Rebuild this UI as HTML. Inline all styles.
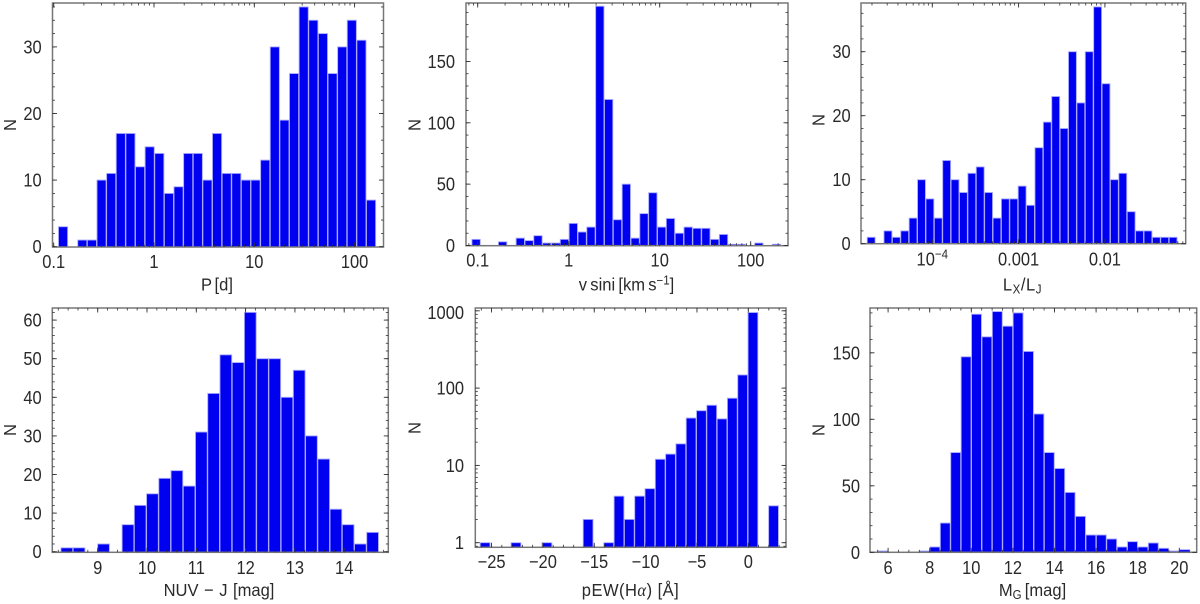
<!DOCTYPE html>
<html lang="en">
<head>
<meta charset="utf-8">
<title>Histograms of stellar parameters</title>
<style>
html,body{margin:0;padding:0;background:#fff;width:1200px;height:604px;overflow:hidden}
svg{display:block}
text{font-family:"Liberation Sans",sans-serif;fill:#2a2a2a}
.tick-label{font-size:18.5px}
.axis-title{font-size:18px;text-anchor:middle}
</style>
</head>
<body>
<svg id="figure" xmlns="http://www.w3.org/2000/svg" width="1200" height="604" viewBox="0 0 1200 604">
  <rect width="1200" height="604" fill="#fff"/>
  <g id="p0"></g>
  <g id="p1"></g>
  <g id="p2"></g>
  <g id="p3"></g>
  <g id="p4"></g>
  <g id="p5"></g>

  <text class="axis-title" transform="translate(217,290.5) scale(.92,1)" word-spacing="-2">P [d]</text>
  <text class="axis-title" transform="translate(16,125) rotate(-90) scale(.92,1)">N</text>

  <text class="axis-title" transform="translate(626.5,290.5) scale(.92,1)" word-spacing="-1.5">v sini [km s<tspan dy="-6" font-size="12.5">−1</tspan><tspan dy="6">]</tspan></text>
  <text class="axis-title" transform="translate(420.5,125) rotate(-90) scale(.92,1)">N</text>

  <text class="axis-title" transform="translate(1022.5,290.5) scale(.92,1)" letter-spacing=".6">L<tspan dy="3" font-size="12.5">X</tspan><tspan dy="-3">/L</tspan><tspan dy="3" font-size="12.5">J</tspan></text>
  <text class="axis-title" transform="translate(824.5,120) rotate(-90) scale(.92,1)">N</text>

  <text class="axis-title" transform="translate(219,596) scale(.92,1)" word-spacing="1">NUV − J [mag]</text>
  <text class="axis-title" transform="translate(16,430) rotate(-90) scale(.92,1)">N</text>

  <text class="axis-title" transform="translate(630.5,596) scale(.92,1)" letter-spacing=".5">pEW(H<tspan font-style="italic" font-family="Liberation Serif">α</tspan>) [Å]</text>
  <text class="axis-title" transform="translate(420.5,428) rotate(-90) scale(.92,1)">N</text>

  <text class="axis-title" transform="translate(1032.5,596) scale(.92,1)" word-spacing="-1.5">M<tspan dy="3" font-size="12.5">G</tspan><tspan dy="-3"> [mag]</tspan></text>
  <text class="axis-title" transform="translate(824.5,430) rotate(-90) scale(.92,1)">N</text>
</svg>

<script>
// ---- data: bin ranges (in data units) ----
const periodBinRange = [0.111, 163];
const vsiniBinRange = [0.0859, 215];
const lxljBinRange = [0.0000175, 0.069];
const nuvBinRange = [8.25, 14.7];
const pewBinRange = [-26.13, 2.96];
const mgBinRange = [5.5, 20.5];

// ---- data: histogram counts ----
const periodCounts = [3,0,1,1,10,11,17,17,12,15,14,8,9,14,14,10,17,11,11,10,10,13,30,19,26,36,34,32,26,30,34,31,7];
const vsiniCounts = [5,0,0,3,0,6,4,8,2,2,5,18,11,15,195,119,21,50,6,26,43,15,22,10,15,14,14,5,9,1,1,0,2,0,1];
const lxljCounts = [1,0,2,1,2,4,10,7,4,13,10,8,11,12,8,4,7,7,9,6,15,19,23,18,30,22,30,37,25,10,11,5,2,2,1,1,1];
const nuvCounts = [1,1,0,2,0,7,12,15,19,21,17,31,41,51,49,62,50,50,40,47,30,24,11,7,2,5];
const pewCounts = [1,0,0,1,0,0,1,0,0,0,2,0,1,4,2,4,5,12,14,19,41,51,60,40,74,148,950,0,3];
const mgCounts = [1,0,0,0,1,4,22,75,147,179,162,181,170,180,151,104,75,63,45,27,13,13,10,4,8,4,7,3,1,2];

// ---- tick values and labels ----
const periodXTicks = [0.1,1,10,100];
const periodXLabels = ["0.1","1","10","100"];
const periodYTicks = [0,10,20,30];
const periodYLabels = ["0","10","20","30"];
const vsiniXTicks = [0.1,1,10,100];
const vsiniXLabels = ["0.1","1","10","100"];
const vsiniYTicks = [0,50,100,150];
const vsiniYLabels = ["0","50","100","150"];
const lxljXTicks = [0.0001,0.001,0.01];
const lxljXLabels = ["10^−4","0.001","0.01"];
const lxljYTicks = [0,10,20,30];
const lxljYLabels = ["0","10","20","30"];
const nuvXTicks = [9,10,11,12,13,14];
const nuvXLabels = ["9","10","11","12","13","14"];
const nuvYTicks = [0,10,20,30,40,50,60];
const nuvYLabels = ["0","10","20","30","40","50","60"];
const pewXTicks = [-25,-20,-15,-10,-5,0];
const pewXLabels = ["−25","−20","−15","−10","−5","0"];
const pewYTicks = [1,10,100,1000];
const pewYLabels = ["1","10","100","1000"];
const mgXTicks = [6,8,10,12,14,16,18,20];
const mgXLabels = ["6","8","10","12","14","16","18","20"];
const mgYTicks = [0,50,100,150];
const mgYLabels = ["0","50","100","150"];

// ---- layout ----
const panels = [
 {id:"p0",name:"period",frame:[52.5,383.5,3,247],counts:periodCounts,bins:periodBinRange,
  x:{log:true,ref:0.1,px:53.7,k:100.3},y:{log:false,ref:0,px:246.7,k:-6.66},
  xt:periodXTicks,xl:periodXLabels,yt:periodYTicks,yl:periodYLabels,xMinor:0,yMinor:2,xBase:268,yRight:41.7},
 {id:"p1",name:"vsini",frame:[466,788,3,245.7],counts:vsiniCounts,bins:vsiniBinRange,
  x:{log:true,ref:0.1,px:477.7,k:91},y:{log:false,ref:0,px:245.5,k:-1.227},
  xt:vsiniXTicks,xl:vsiniXLabels,yt:vsiniYTicks,yl:vsiniYLabels,xMinor:0,yMinor:10,xBase:266.7,yRight:455},
 {id:"p2",name:"lx-lj",frame:[861,1185.7,3,243.7],counts:lxljCounts,bins:lxljBinRange,
  x:{log:true,ref:0.0001,px:932.3,k:86.3},y:{log:false,ref:0,px:243.7,k:-6.4},
  xt:lxljXTicks,xl:lxljXLabels,yt:lxljYTicks,yl:lxljYLabels,xMinor:0,yMinor:2,xBase:265.7,yRight:850.7},
 {id:"p3",name:"nuv-j",frame:[52.3,388.3,308,552.3],counts:nuvCounts,bins:nuvBinRange,
  x:{log:false,ref:9,px:97.7,k:49.3},y:{log:false,ref:0,px:551.7,k:-3.86},
  xt:nuvXTicks,xl:nuvXLabels,yt:nuvYTicks,yl:nuvYLabels,xMinor:0.2,yMinor:2,xBase:574,yRight:41.7},
 {id:"p4",name:"pew-halpha",frame:[475.3,786,308,547.3],counts:pewCounts,bins:pewBinRange,
  x:{log:false,ref:0,px:748.3,k:10.27},y:{log:true,ref:1,px:542.7,k:-77.3},
  xt:pewXTicks,xl:pewXLabels,yt:pewYTicks,yl:pewYLabels,xMinor:1,yMinor:0,xBase:568,yRight:464},
 {id:"p5",name:"mg",frame:[870,1196.7,308,552.3],counts:mgCounts,bins:mgBinRange,
  x:{log:false,ref:10,px:971.3,k:20.8},y:{log:false,ref:0,px:552.3,k:-1.33},
  xt:mgXTicks,xl:mgXLabels,yt:mgYTicks,yl:mgYLabels,xMinor:0.5,yMinor:10,xBase:574,yRight:860}
];

const NS = "http://www.w3.org/2000/svg";
function add(parent, tag, attrs) {
  const el = document.createElementNS(NS, tag);
  for (const key in attrs) el.setAttribute(key, attrs[key]);
  parent.appendChild(el);
  return el;
}
function makeScale(s) {
  return s.log
    ? v => s.px + (Math.log10(v) - Math.log10(s.ref)) * s.k
    : v => s.px + (v - s.ref) * s.k;
}
function invert(s, p) {
  const t = (p - s.px) / s.k;
  return s.log ? t + Math.log10(s.ref) : t + s.ref;
}
function minorValues(s, step, a, b) {
  const lo = Math.min(invert(s, a), invert(s, b));
  const hi = Math.max(invert(s, a), invert(s, b));
  const out = [];
  if (s.log) {
    for (let d = Math.floor(lo); d <= Math.ceil(hi); d++) {
      for (let m = 1; m < 10; m++) {
        const t = d + Math.log10(m);
        if (t > lo && t < hi) out.push(Math.pow(10, t));
      }
    }
  } else {
    for (let v = Math.ceil(lo / step) * step; v < hi; v += step) out.push(v);
  }
  return out;
}
function writeLabel(el, label) {
  const parts = label.split("^");
  el.textContent = parts[0];
  if (parts[1]) {
    const sup = add(el, "tspan", {dy: -7, "font-size": 13});
    sup.textContent = parts[1];
    
    
  }
}

panels.forEach(p => {
  const g = document.getElementById(p.id);
  const [L, R, T, B] = p.frame;
  const X = makeScale(p.x);
  const Y = makeScale(p.y);
  const n = p.counts.length;

  // bars
  const edge = i => {
    const [a, b] = p.bins;
    return p.x.log
      ? Math.pow(10, Math.log10(a) + (Math.log10(b) - Math.log10(a)) * i / n)
      : a + (b - a) * i / n;
  };
  p.counts.forEach((c, i) => {
    if (c <= 0) return;
    const x0 = X(edge(i));
    const x1 = X(edge(i + 1));
    const top = Y(c);
    const bar = add(g, "rect", {
      x: x0 + 0.25, y: top, width: Math.max(x1 - x0 - 0.5, 0.5), height: Math.max(B - top, 0),
      fill: "#0000f0", stroke: "#a9a9ff", "stroke-width": 0.9
    });
    
    
  });

  // frame
  const frame = add(g, "rect", {x: L, y: T, width: R - L, height: B - T, fill: "none", stroke: "#777", "stroke-width": 1.5});
  
  

  // minor ticks
  minorValues(p.x, p.xMinor, L, R).forEach(v => {
    const px = X(v);
    [[B, B - 2.5], [T, T + 2.5]].forEach(([a, b]) => {
      const tick = add(g, "line", {x1: px, x2: px, y1: a, y2: b, stroke: "#333", "stroke-width": 0.8});
      
      
    });
  });
  minorValues(p.y, p.yMinor, B, T).forEach(v => {
    const py = Y(v);
    [[L, L + 2.5], [R, R - 2.5]].forEach(([a, b]) => {
      const tick = add(g, "line", {x1: a, x2: b, y1: py, y2: py, stroke: "#333", "stroke-width": 0.8});
      
      
    });
  });

  // major ticks and labels
  p.xt.forEach((v, i) => {
    const px = X(v);
    [[B, B - 4.5], [T, T + 4.5]].forEach(([a, b]) => {
      const tick = add(g, "line", {x1: px, x2: px, y1: a, y2: b, stroke: "#333", "stroke-width": 0.9});
      
      
    });
    const label = add(g, "text", {class: "tick-label", transform: "translate(" + px + "," + p.xBase + ") scale(.89,1)", "text-anchor": "middle"});
    writeLabel(label, p.xl[i]);
    
    
  });
  p.yt.forEach((v, i) => {
    const py = Y(v);
    [[L, L + 4.5], [R, R - 4.5]].forEach(([a, b]) => {
      const tick = add(g, "line", {x1: a, x2: b, y1: py, y2: py, stroke: "#333", "stroke-width": 0.9});
      
      
    });
    const labelY = Math.max(py + 6.5, T + 11);
    const label = add(g, "text", {class: "tick-label", transform: "translate(" + p.yRight + "," + labelY + ") scale(.89,1)", "text-anchor": "end"});
    writeLabel(label, p.yl[i]);
    
    
  });
});
</script>
</body>
</html>
